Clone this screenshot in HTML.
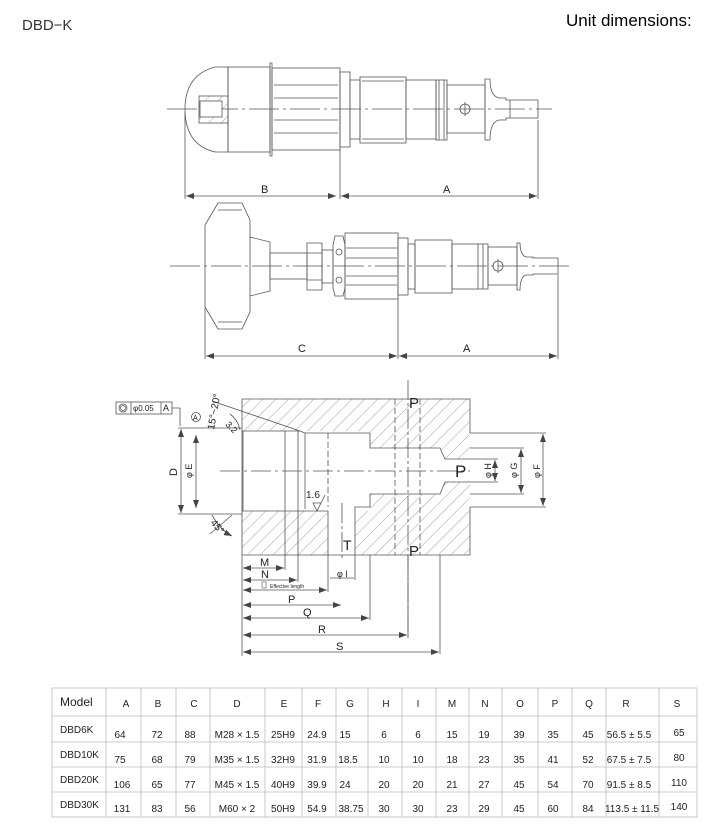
<!DOCTYPE html>
<html><head><meta charset="utf-8"><style>
html,body{margin:0;padding:0;background:#fff;}
svg{display:block;font-family:"Liberation Sans",sans-serif;}
</style></head><body>
<svg width="718" height="836" viewBox="0 0 718 836" xmlns="http://www.w3.org/2000/svg">
<defs>
<pattern id="h" width="9" height="9" patternUnits="userSpaceOnUse" patternTransform="rotate(45)">
<line x1="0" y1="0" x2="0" y2="9" stroke="#777" stroke-width="0.7"/></pattern>
<marker id="a" markerWidth="8" markerHeight="6" refX="8" refY="3" orient="auto-start-reverse" markerUnits="userSpaceOnUse"><path d="M0,0 L8,3 L0,6z" fill="#444"/></marker>
</defs>
<text x="22" y="30" font-size="15" fill="#333">DBD−K</text>
<text x="566" y="26" font-size="17" fill="#000">Unit dimensions:</text>

<g fill="none" stroke="#555" stroke-width="0.8">
<!-- Drawing 1 -->
<line x1="167" y1="109" x2="552" y2="109" stroke-dasharray="30,4,3,4"/>
<path d="M228,67 L215,67 Q185,75 185,109 Q185,145 215,152 L228,152 Z"/>
<rect x="228" y="67" width="42" height="85"/>
<path d="M270,63 L272,63 L272,156 L270,156 Z"/>
<rect x="272" y="68" width="68" height="82"/>
<line x1="274" y1="85" x2="338" y2="85"/><line x1="274" y1="98" x2="338" y2="98"/>
<line x1="274" y1="120" x2="338" y2="120"/><line x1="274" y1="133" x2="338" y2="133"/>
<rect x="340" y="72" width="10" height="75"/>
<rect x="350" y="80" width="10" height="59"/>
<rect x="360" y="77" width="46" height="66"/>
<line x1="362" y1="81" x2="404" y2="81"/><line x1="362" y1="139" x2="404" y2="139"/>
<rect x="406" y="80" width="30" height="59"/>
<rect x="436" y="80" width="11" height="60"/>
<line x1="439" y1="80" x2="439" y2="140"/><line x1="444" y1="80" x2="444" y2="140"/>
<rect x="447" y="85" width="38" height="48"/>
<path d="M485,79 L490,79 Q490,96 499,98 L506,98 L506,100 L538,100 L538,118 L506,118 L506,120 L499,120 Q490,122 490,140 L485,140 Z"/>
<line x1="510" y1="100" x2="510" y2="118"/>
<circle cx="465" cy="109" r="5"/><line x1="465" y1="102" x2="465" y2="116"/>
<rect x="199" y="96" width="29" height="27" fill="url(#h)"/>
<rect x="200" y="101" width="22" height="16" fill="#fff"/>
<line x1="185" y1="112" x2="185" y2="199"/><line x1="340" y1="150" x2="340" y2="199"/><line x1="538" y1="120" x2="538" y2="199"/>
<line x1="186" y1="196" x2="336" y2="196" marker-start="url(#a)" marker-end="url(#a)"/>
<line x1="341" y1="196" x2="537" y2="196" marker-start="url(#a)" marker-end="url(#a)"/>

<!-- Drawing 2 -->
<line x1="170" y1="266" x2="572" y2="266" stroke-dasharray="30,4,3,4"/>
<path d="M218,203 L242,203 L250,220 L250,312 L242,329 L218,329 L205,307 L205,225 Z"/>
<line x1="218" y1="210" x2="242" y2="210"/><line x1="218" y1="322" x2="242" y2="322"/>
<path d="M250,237 L270,242 L270,291 L250,296"/>
<rect x="270" y="253" width="37" height="26"/>
<path d="M307,243 L322,243 L322,290 L307,290 Z M307,253 L322,253 M307,280 L322,280"/>
<rect x="322" y="250" width="11" height="33"/>
<path d="M335,236 L343,236 L345,245 L345,288 L343,296 L335,296 L333,288 L333,245 Z"/>
<circle cx="339" cy="252" r="3"/><circle cx="339" cy="280" r="3"/>
<rect x="345" y="233" width="53" height="66"/>
<line x1="346" y1="248" x2="397" y2="248"/><line x1="346" y1="258" x2="397" y2="258"/>
<line x1="346" y1="276" x2="397" y2="276"/><line x1="346" y1="285" x2="397" y2="285"/>
<rect x="398" y="238" width="10" height="57"/>
<rect x="408" y="244" width="7" height="45"/>
<rect x="415" y="240" width="37" height="53"/>
<rect x="452" y="244" width="36" height="45"/>
<line x1="478" y1="244" x2="478" y2="289"/><line x1="483" y1="244" x2="483" y2="289"/>
<rect x="488" y="247" width="29" height="38"/>
<path d="M517,243 L520,243 Q520,255 526,257 L533,257 L533,258 L558,258 L558,274 L533,274 L533,275 L526,275 Q520,277 520,290 L517,290 Z"/>
<circle cx="498" cy="266" r="5"/><line x1="498" y1="259" x2="498" y2="273"/>
<line x1="205" y1="308" x2="205" y2="359"/><line x1="398" y1="299" x2="398" y2="359"/><line x1="558" y1="275" x2="558" y2="359"/>
<line x1="206" y1="356" x2="397" y2="356" marker-start="url(#a)" marker-end="url(#a)"/>
<line x1="399" y1="356" x2="557" y2="356" marker-start="url(#a)" marker-end="url(#a)"/>

<!-- Drawing 3 -->
<rect x="242" y="399" width="228" height="156" fill="url(#h)" stroke="none"/>
<path d="M242,431 L370,431 L370,448 L440,448 L445,459 L470,459 L470,482 L445,482 L440,494 L370,494 L370,511 L355,511 L355,556 L328,556 L328,511 L242,511 Z" fill="#fff" stroke="none"/>
<path d="M242,399 L470,399 L470,433 M470,507 L470,555 L242,555 L242,399"/>
<path d="M242,431 L300,431 L305,433 L370,433 L370,448 L440,448 L445,459 L470,459 M470,482 L445,482 L440,494 L370,494 L370,507 L355,507 L355,555 M328,555 L328,511 L242,511"/>
<line x1="328" y1="433" x2="328" y2="507" stroke-dasharray="6,3"/>
<line x1="243" y1="431" x2="243" y2="511"/><line x1="285" y1="431" x2="285" y2="511"/>
<line x1="298" y1="431" x2="298" y2="511"/><line x1="305" y1="433" x2="305" y2="509"/>
<line x1="395" y1="399" x2="395" y2="555" stroke-dasharray="6,3"/>
<line x1="420" y1="399" x2="420" y2="555" stroke-dasharray="6,3"/>
<line x1="408" y1="380" x2="408" y2="640" stroke-dasharray="20,3,3,3"/>
<line x1="342" y1="503" x2="342" y2="560" stroke-dasharray="20,3,3,3"/>
<line x1="220" y1="471" x2="470" y2="471" stroke-dasharray="20,4,3,4"/>
<!-- left dims -->
<line x1="178" y1="428" x2="242" y2="428"/><line x1="178" y1="514" x2="242" y2="514"/>
<line x1="181" y1="429" x2="181" y2="513" marker-start="url(#a)" marker-end="url(#a)"/>
<line x1="196" y1="435" x2="196" y2="508" marker-start="url(#a)" marker-end="url(#a)"/>
<path d="M172,408 L180,408 L180,426"/>
<rect x="116" y="402" width="56" height="12"/><line x1="131" y1="402" x2="131" y2="414"/><line x1="161" y1="402" x2="161" y2="414"/>
<circle cx="123" cy="408" r="4"/><circle cx="123" cy="408" r="2.5"/>
<line x1="212" y1="401" x2="300" y2="431"/>
<path d="M230,414 Q238,420 240,430"/>
<path d="M212,515 Q220,530 232,536" marker-end="url(#a)"/><line x1="232" y1="515" x2="210" y2="534"/>
<circle cx="196" cy="417" r="4.5"/>
<path d="M313,503 L317,511 L321,503 Z M321,503 L325,495"/>
<!-- right dims -->
<line x1="470" y1="433" x2="546" y2="433"/><line x1="470" y1="507" x2="546" y2="507"/>
<line x1="470" y1="448" x2="524" y2="448"/><line x1="470" y1="494" x2="524" y2="494"/>
<line x1="470" y1="459" x2="498" y2="459"/><line x1="470" y1="482" x2="498" y2="482"/>
<line x1="543" y1="434" x2="543" y2="506" marker-start="url(#a)" marker-end="url(#a)"/>
<line x1="521" y1="449" x2="521" y2="493" marker-start="url(#a)" marker-end="url(#a)"/>
<line x1="495" y1="460" x2="495" y2="481" marker-start="url(#a)" marker-end="url(#a)"/>
<!-- bottom dims -->
<line x1="242" y1="555" x2="242" y2="656"/>
<line x1="285" y1="511" x2="285" y2="570"/><line x1="298" y1="511" x2="298" y2="582"/>
<line x1="328" y1="555" x2="328" y2="592"/><line x1="370" y1="555" x2="370" y2="620"/>
<line x1="408" y1="555" x2="408" y2="637"/><line x1="440" y1="555" x2="440" y2="654"/>
<line x1="355" y1="555" x2="355" y2="580"/>
<line x1="243" y1="568" x2="284" y2="568" marker-start="url(#a)" marker-end="url(#a)"/>
<line x1="243" y1="580" x2="297" y2="580" marker-start="url(#a)" marker-end="url(#a)"/>
<line x1="243" y1="590" x2="327" y2="590" marker-start="url(#a)" marker-end="url(#a)"/>
<line x1="243" y1="605" x2="341" y2="605" marker-start="url(#a)" marker-end="url(#a)"/>
<line x1="243" y1="618" x2="369" y2="618" marker-start="url(#a)" marker-end="url(#a)"/>
<line x1="243" y1="635" x2="407" y2="635" marker-start="url(#a)" marker-end="url(#a)"/>
<line x1="243" y1="652" x2="439" y2="652" marker-start="url(#a)" marker-end="url(#a)"/>
<line x1="330" y1="578" x2="354" y2="578"/>
<rect x="262" y="582" width="4" height="6" stroke-width="0.6"/>
</g>
<g font-size="11" fill="#222">
<text x="261" y="193">B</text><text x="443" y="193">A</text>
<text x="298" y="352">C</text><text x="463" y="352">A</text>
<text x="409" y="408" font-size="15">P</text><text x="409" y="556" font-size="15">P</text>
<text x="455" y="477" font-size="17">P</text><text x="343" y="550" font-size="14">T</text>
<text x="260" y="566">M</text><text x="261" y="578">N</text>
<text x="270" y="588" font-size="5">Effective length</text>
<text x="288" y="603">P</text><text x="303" y="616">Q</text><text x="318" y="633">R</text><text x="336" y="650">S</text>
<text x="337" y="577" font-size="9">φ I</text>
<text x="306" y="498" font-size="10">1.6</text>
<text x="133" y="411" font-size="8">φ0.05</text><text x="163" y="411" font-size="9">A</text>
<text x="193" y="420" font-size="7">A</text>
<text transform="translate(177,476) rotate(-90)">D</text>
<text transform="translate(192,478) rotate(-90)" font-size="9">φ E</text>
<text transform="translate(491,478) rotate(-90)" font-size="9">φ H</text>
<text transform="translate(517,478) rotate(-90)" font-size="9">φ G</text>
<text transform="translate(540,478) rotate(-90)" font-size="9">φ F</text>
<text transform="translate(214,430) rotate(-80)" font-size="10">15°~20°</text>
<text transform="translate(225,425) rotate(45)" font-size="9">3.2</text>
<text transform="translate(210,523) rotate(50)" font-size="10">45°</text>
</g>
<!-- table -->
<g stroke="#bbb" stroke-width="0.8" fill="none">
<rect x="52" y="688" width="645" height="129"/>
<line x1="52" y1="716" x2="697" y2="716"/><line x1="52" y1="742" x2="697" y2="742"/>
<line x1="52" y1="767" x2="697" y2="767"/><line x1="52" y1="792" x2="697" y2="792"/>
<path d="M106,688V817M141,688V817M176,688V817M210,688V817M265,688V817M302,688V817M336,688V817M368,688V817M402,688V817M436,688V817M469,688V817M502,688V817M538,688V817M572,688V817M606,688V817M659,688V817"/>
</g>
<g font-size="10" fill="#222">
<text x="60" y="706" font-size="12">Model</text>
<g text-anchor="middle"><text x="126" y="707">A</text><text x="158" y="707">B</text><text x="194" y="707">C</text><text x="237" y="707">D</text><text x="284" y="707">E</text><text x="318" y="707">F</text><text x="350" y="707">G</text><text x="386" y="707">H</text><text x="418" y="707">I</text><text x="452" y="707">M</text><text x="485" y="707">N</text><text x="520" y="707">O</text><text x="555" y="707">P</text><text x="589" y="707">Q</text><text x="626" y="707">R</text><text x="677" y="707">S</text></g>
<text x="60" y="733">DBD6K</text><text x="60" y="758">DBD10K</text><text x="60" y="783">DBD20K</text><text x="60" y="808">DBD30K</text>
<g text-anchor="middle">
<text x="120" y="738">64</text><text x="157" y="738">72</text><text x="190" y="738">88</text><text x="237" y="738">M28 × 1.5</text><text x="283" y="738">25H9</text><text x="317" y="738">24.9</text><text x="345" y="738">15</text><text x="384" y="738">6</text><text x="418" y="738">6</text><text x="452" y="738">15</text><text x="484" y="738">19</text><text x="519" y="738">39</text><text x="553" y="738">35</text><text x="588" y="738">45</text><text x="629" y="738">56.5 ± 5.5</text><text x="679" y="736">65</text>
<text x="120" y="763">75</text><text x="157" y="763">68</text><text x="190" y="763">79</text><text x="237" y="763">M35 × 1.5</text><text x="283" y="763">32H9</text><text x="317" y="763">31.9</text><text x="348" y="763">18.5</text><text x="384" y="763">10</text><text x="418" y="763">10</text><text x="452" y="763">18</text><text x="484" y="763">23</text><text x="519" y="763">35</text><text x="553" y="763">41</text><text x="588" y="763">52</text><text x="629" y="763">67.5 ± 7.5</text><text x="679" y="761">80</text>
<text x="122" y="788">106</text><text x="157" y="788">65</text><text x="190" y="788">77</text><text x="237" y="788">M45 × 1.5</text><text x="283" y="788">40H9</text><text x="317" y="788">39.9</text><text x="345" y="788">24</text><text x="384" y="788">20</text><text x="418" y="788">20</text><text x="452" y="788">21</text><text x="484" y="788">27</text><text x="519" y="788">45</text><text x="553" y="788">54</text><text x="588" y="788">70</text><text x="629" y="788">91.5 ± 8.5</text><text x="679" y="786">110</text>
<text x="122" y="812">131</text><text x="157" y="812">83</text><text x="190" y="812">56</text><text x="237" y="812">M60 × 2</text><text x="283" y="812">50H9</text><text x="317" y="812">54.9</text><text x="351" y="812">38.75</text><text x="384" y="812">30</text><text x="418" y="812">30</text><text x="452" y="812">23</text><text x="484" y="812">29</text><text x="519" y="812">45</text><text x="553" y="812">60</text><text x="588" y="812">84</text><text x="632" y="812">113.5 ± 11.5</text><text x="679" y="810">140</text>
</g></g>
</svg>
</body></html>
